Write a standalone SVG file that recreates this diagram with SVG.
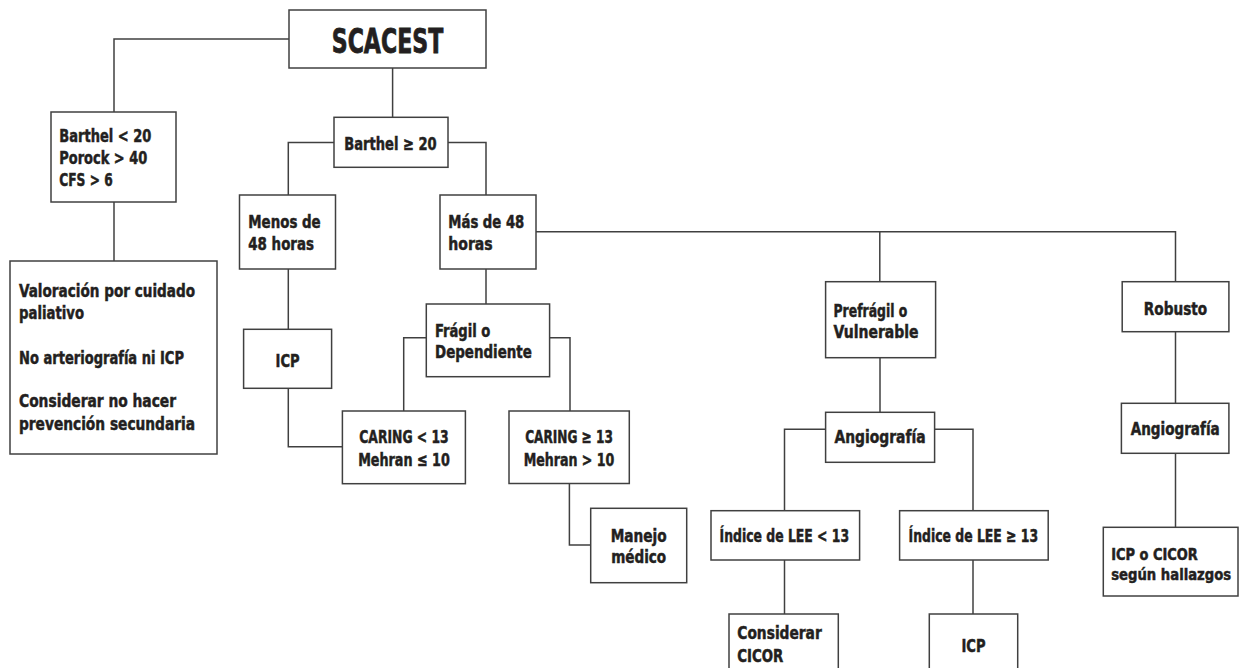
<svg xmlns="http://www.w3.org/2000/svg" width="1239" height="668" viewBox="0 0 1239 668">
<style>
.box{fill:#fff;stroke:#404040;stroke-width:1.5}
.ln{fill:none;stroke:#404040;stroke-width:1.5}
text{font-family:"Liberation Sans Narrow","DejaVu Sans Condensed","Liberation Sans",sans-serif;font-weight:bold;font-size:18.3px;fill:#231f20;stroke:#231f20;stroke-width:0.5}
.c{text-anchor:middle}
.big{font-size:34px;stroke-width:0.8}
.sm{font-size:16.5px}
</style>
<rect width="1239" height="668" fill="#fff"/>
<g id="connectors">
<path class="ln" d="M289,39 H114 V112"/>
<path class="ln" d="M392.6,68 V117.3"/>
<path class="ln" d="M114,202 V261"/>
<path class="ln" d="M334,142.5 H288.3 V195"/>
<path class="ln" d="M448,142.5 H486 V195"/>
<path class="ln" d="M288.3,269 V329.3"/>
<path class="ln" d="M288.3,388.3 V446.7 H342.4"/>
<path class="ln" d="M486,269 V304"/>
<path class="ln" d="M536,231.7 H1175.5 V281.7"/>
<path class="ln" d="M879.8,231.7 V281.7"/>
<path class="ln" d="M426.3,337.7 H403.7 V411"/>
<path class="ln" d="M549.6,337.7 H570 V411"/>
<path class="ln" d="M569.4,483.5 V545 H590.7"/>
<path class="ln" d="M880,357.7 V412.3"/>
<path class="ln" d="M825.6,429.3 H784.5 V510.7"/>
<path class="ln" d="M934.4,429.3 H973 V510.7"/>
<path class="ln" d="M784.5,560 V614"/>
<path class="ln" d="M973,560 V614"/>
<path class="ln" d="M1175.5,331.7 V403.3"/>
<path class="ln" d="M1175.5,453.3 V527.3"/>
</g>
<g id="n-scacest">
<rect class="box" x="289" y="10" width="197" height="58"/>
<text class="big c" x="387.5" y="52.7" textLength="111.5" lengthAdjust="spacingAndGlyphs">SCACEST</text>
</g>
<g id="n-barthel-lt20">
<rect class="box" x="51" y="112" width="125" height="90"/>
<text x="59.3" y="141.7" textLength="92" lengthAdjust="spacingAndGlyphs">Barthel &lt; 20</text>
<text x="59.3" y="164.3" textLength="88" lengthAdjust="spacingAndGlyphs">Porock &gt; 40</text>
<text x="59.3" y="186" textLength="53.4" lengthAdjust="spacingAndGlyphs">CFS &gt; 6</text>
</g>
<g id="n-valoracion">
<rect class="box" x="10" y="261" width="207" height="193"/>
<text x="19" y="297" textLength="176" lengthAdjust="spacingAndGlyphs">Valoración por cuidado</text>
<text x="19" y="318.5" textLength="65" lengthAdjust="spacingAndGlyphs">paliativo</text>
<text x="19" y="363.5" textLength="165" lengthAdjust="spacingAndGlyphs">No arteriografía ni ICP</text>
<text x="19" y="406.7" textLength="157" lengthAdjust="spacingAndGlyphs">Considerar no hacer</text>
<text x="19" y="430" textLength="176" lengthAdjust="spacingAndGlyphs">prevención secundaria</text>
</g>
<g id="n-barthel-ge20">
<rect class="box" x="334" y="117.3" width="114" height="50"/>
<text class="c" x="390.5" y="150" textLength="92.4" lengthAdjust="spacingAndGlyphs">Barthel ≥ 20</text>
</g>
<g id="n-menos48">
<rect class="box" x="239.5" y="195" width="96" height="74"/>
<text x="248.3" y="227.7" textLength="72.4" lengthAdjust="spacingAndGlyphs">Menos de</text>
<text x="248.3" y="250" textLength="65.7" lengthAdjust="spacingAndGlyphs">48 horas</text>
</g>
<g id="n-mas48">
<rect class="box" x="440" y="195" width="96" height="74"/>
<text x="448.3" y="227.7" textLength="76" lengthAdjust="spacingAndGlyphs">Más de 48</text>
<text x="448.3" y="250" textLength="44.4" lengthAdjust="spacingAndGlyphs">horas</text>
</g>
<g id="n-icp1">
<rect class="box" x="243.6" y="329.3" width="88" height="59"/>
<text class="c" x="287.6" y="366.7" textLength="24" lengthAdjust="spacingAndGlyphs">ICP</text>
</g>
<g id="n-fragil">
<rect class="box" x="426.3" y="304" width="123.3" height="72.7"/>
<text x="435" y="336.7" textLength="55.3" lengthAdjust="spacingAndGlyphs">Frágil o</text>
<text x="435" y="358.3" textLength="96.8" lengthAdjust="spacingAndGlyphs">Dependiente</text>
</g>
<g id="n-caring-lt13">
<rect class="box" x="342.4" y="411" width="123" height="72.7"/>
<text class="c" x="404" y="443" textLength="89.4" lengthAdjust="spacingAndGlyphs">CARING &lt; 13</text>
<text class="c" x="404" y="466" textLength="91.7" lengthAdjust="spacingAndGlyphs">Mehran ≤ 10</text>
</g>
<g id="n-caring-ge13">
<rect class="box" x="509" y="411" width="120.3" height="72.5"/>
<text class="c" x="569" y="443.3" textLength="87.7" lengthAdjust="spacingAndGlyphs">CARING ≥ 13</text>
<text class="c" x="569" y="466" textLength="90.7" lengthAdjust="spacingAndGlyphs">Mehran &gt; 10</text>
</g>
<g id="n-manejo">
<rect class="box" x="590.7" y="508.3" width="96" height="74.4"/>
<text class="c" x="638.7" y="541.5" textLength="56" lengthAdjust="spacingAndGlyphs">Manejo</text>
<text class="c" x="638.7" y="563.3" textLength="55" lengthAdjust="spacingAndGlyphs">médico</text>
</g>
<g id="n-prefragil">
<rect class="box" x="825.6" y="281.7" width="110" height="76"/>
<text x="833.5" y="316.7" textLength="73.9" lengthAdjust="spacingAndGlyphs">Prefrágil o</text>
<text x="833.5" y="338.3" textLength="85" lengthAdjust="spacingAndGlyphs">Vulnerable</text>
</g>
<g id="n-angio1">
<rect class="box" x="825.6" y="412.3" width="109" height="50"/>
<text class="c" x="880" y="443.3" textLength="91" lengthAdjust="spacingAndGlyphs">Angiografía</text>
</g>
<g id="n-lee-lt13">
<rect class="box" x="711" y="510.7" width="148.6" height="49.3"/>
<text x="719.6" y="541.7" textLength="129.5" lengthAdjust="spacingAndGlyphs">Índice de LEE &lt; 13</text>
</g>
<g id="n-lee-ge13">
<rect class="box" x="899.6" y="510.7" width="148.6" height="49.3"/>
<text x="908.6" y="541.7" textLength="129.5" lengthAdjust="spacingAndGlyphs">Índice de LEE ≥ 13</text>
</g>
<g id="n-cicor">
<rect class="box" x="729" y="614" width="109.3" height="60"/>
<text x="737.3" y="639" textLength="84.4" lengthAdjust="spacingAndGlyphs">Considerar</text>
<text x="737.3" y="662.3" textLength="46" lengthAdjust="spacingAndGlyphs">CICOR</text>
</g>
<g id="n-icp2">
<rect class="box" x="929.3" y="614" width="88.4" height="60"/>
<text class="c" x="973.5" y="651.7" textLength="24" lengthAdjust="spacingAndGlyphs">ICP</text>
</g>
<g id="n-robusto">
<rect class="box" x="1122.2" y="281.7" width="106.7" height="50"/>
<text class="c" x="1175.5" y="315" textLength="63.3" lengthAdjust="spacingAndGlyphs">Robusto</text>
</g>
<g id="n-angio2">
<rect class="box" x="1121.4" y="403.3" width="107.5" height="50"/>
<text class="c" x="1175.2" y="435" textLength="89" lengthAdjust="spacingAndGlyphs">Angiografía</text>
</g>
<g id="n-icp-cicor">
<rect class="box" x="1103.3" y="527.3" width="134.7" height="68.7"/>
<text class="sm" x="1111.2" y="559.5" textLength="86.6" lengthAdjust="spacingAndGlyphs">ICP o CICOR</text>
<text class="sm" x="1111.2" y="580" textLength="120" lengthAdjust="spacingAndGlyphs">según hallazgos</text>
</g>
</svg>
